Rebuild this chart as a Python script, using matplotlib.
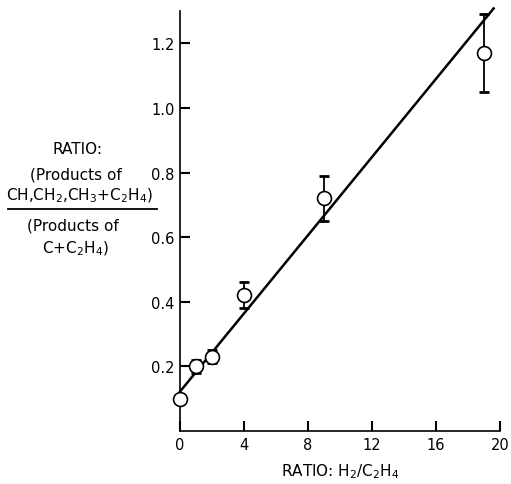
import numpy as np
import matplotlib
matplotlib.use('Agg')
import matplotlib.pyplot as plt

# data
h2_ratio = [0.0, 1.0, 2.0, 4.0, 9.0, 19.0]
prod_ratio = [0.10, 0.20, 0.23, 0.42, 0.72, 1.17]
err = [0.0, 0.02, 0.02, 0.04, 0.07, 0.12]
fit_intercept = 0.122
fit_slope = 0.0605
fit_xmax = 19.6

xticks = [0, 4, 8, 12, 16, 20]
yticks = [0.2, 0.4, 0.6, 0.8, 1.0, 1.2]

plt.rcParams['font.family'] = ['DejaVu Sans']
fig = plt.figure(figsize=(5.11, 4.85), dpi=100)
ax = fig.add_axes([180 / 511, 53 / 485, 320 / 511, 420 / 485])

xf = np.array([0.0, fit_xmax])
ax.plot(xf, fit_intercept + fit_slope * xf, color='black', lw=1.8, zorder=2,
        clip_on=False)

ax.errorbar(h2_ratio, prod_ratio, yerr=err, fmt='none', ecolor='black',
            elinewidth=1.3, capsize=3.5, capthick=2, zorder=3, clip_on=False)
ax.plot(h2_ratio, prod_ratio, 'o', ms=10, mfc='white', mec='black', mew=1.2,
        zorder=4, clip_on=False)

ax.set_xlim(0, 20)
ax.set_ylim(0, 1.30)
ax.spines['top'].set_visible(False)
ax.spines['right'].set_visible(False)
for s in ['left', 'bottom']:
    ax.spines[s].set_linewidth(1.2)

ax.set_xticks(xticks)
ax.set_xticklabels([str(t) for t in xticks])
ax.set_yticks(yticks)
ax.set_yticklabels([f'{t:.1f}' for t in yticks])
ax.tick_params(direction='in', length=7, width=1.5, labelsize=10.5, pad=4)

ax.set_xlabel('RATIO: H$_2$/C$_2$H$_4$', fontsize=11, labelpad=7)

# stacked y label drawn as a fraction
fs = 11
fig.text(78 / 511, 1 - 150 / 485, 'RATIO:', ha='center', va='center', fontsize=fs)
fig.text(76 / 511, 1 - 175 / 485, '(Products of', ha='center', va='center', fontsize=fs)
fig.text(80 / 511, 1 - 196 / 485, 'CH,CH$_2$,CH$_3$+C$_2$H$_4$)', ha='center', va='center', fontsize=fs)
fig.add_artist(plt.Line2D([8 / 511, 157 / 511], [1 - 210 / 485, 1 - 210 / 485],
                          color='black', lw=1.3))
fig.text(73 / 511, 1 - 226 / 485, '(Products of', ha='center', va='center', fontsize=fs)
fig.text(75 / 511, 1 - 249 / 485, 'C+C$_2$H$_4$)', ha='center', va='center', fontsize=fs)

fig.savefig('out.png', dpi=100)
